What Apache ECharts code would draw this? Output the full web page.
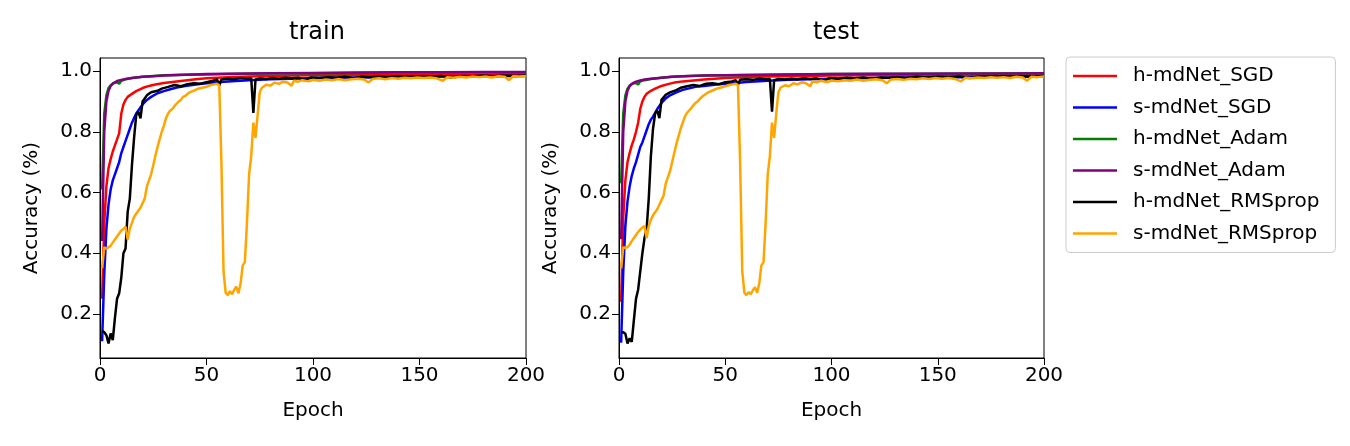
<!DOCTYPE html>
<html>
<head>
<meta charset="utf-8">
<script src="https://cdn.jsdelivr.net/npm/echarts@6/dist/echarts.min.js"></script>
<style>
  html, body { margin: 0; padding: 0; background: #fff; }
  #chart { width: 1350px; height: 446px; }
</style>
</head>
<body>
<div id="chart"></div>
<script>
// series names / colours (legend order)
const names = ['h-mdNet_SGD', 's-mdNet_SGD', 'h-mdNet_Adam', 's-mdNet_Adam', 'h-mdNet_RMSprop', 's-mdNet_RMSprop']
const colors = ['#ff0000', '#0000ff', '#008000', '#800080', '#000000', '#ffa500']
const yTicks = [0.2, 0.4, 0.6, 0.8, 1.0]

// ---- train: [epoch, accuracy]
const trainHSGD = [[1,0.25],[2,0.50],[3,0.62],[4,0.68],[5,0.71],[6,0.735],[7,0.755],[8,0.775],[9,0.795],[10,0.86],[11,0.89],[12,0.905],[13,0.915],[15,0.925],[17,0.934],[20,0.944],[23,0.951],[26,0.956],[30,0.961],[35,0.965],[40,0.969],[45,0.973],[50,0.976],[55,0.978],[60,0.980],[70,0.982],[80,0.984],[90,0.985],[100,0.986],[120,0.987],[140,0.988],[160,0.989],[180,0.989],[200,0.990]]
const trainSSGD = [[1,0.11],[2,0.33],[3,0.48],[4,0.56],[5,0.61],[6,0.64],[7,0.66],[8,0.68],[9,0.70],[10,0.73],[11,0.75],[12,0.77],[13,0.79],[14,0.81],[15,0.83],[16,0.845],[17,0.86],[18,0.87],[20,0.89],[22,0.905],[24,0.915],[27,0.927],[30,0.934],[33,0.94],[36,0.946],[40,0.951],[45,0.956],[50,0.96],[55,0.963],[60,0.966],[70,0.970],[80,0.973],[90,0.975],[100,0.977],[120,0.979],[140,0.981],[160,0.982],[180,0.983],[200,0.984]]
const trainHAdam = [[1,0.61],[2,0.86],[3,0.92],[4,0.944],[5,0.953],[6,0.959],[7,0.962],[8,0.963],[9,0.958],[10,0.968],[12,0.973],[15,0.977],[20,0.981],[25,0.984],[30,0.986],[40,0.988],[50,0.989],[60,0.990],[70,0.991],[80,0.992],[100,0.993],[120,0.994],[140,0.995],[160,0.995],[180,0.996],[200,0.996]]
const trainSAdam = [[1,0.44],[2,0.80],[3,0.90],[4,0.935],[5,0.951],[6,0.958],[7,0.963],[8,0.967],[10,0.971],[12,0.974],[15,0.977],[20,0.981],[25,0.983],[30,0.985],[40,0.988],[50,0.990],[60,0.991],[70,0.992],[80,0.993],[100,0.994],[120,0.995],[140,0.996],[160,0.996],[180,0.997],[200,0.997]]
const trainHRMS = [[1,0.145],[2,0.14],[3,0.13],[4,0.103],[5,0.136],[6,0.114],[7,0.186],[8,0.25],[9,0.268],[10,0.32],[11,0.40],[12,0.416],[13,0.537],[14,0.58],[15,0.69],[16,0.78],[17,0.855],[18,0.866],[19,0.844],[20,0.90],[22,0.92],[24,0.93],[27,0.935],[29,0.942],[32,0.948],[35,0.954],[38,0.95],[41,0.957],[44,0.96],[47,0.958],[50,0.963],[53,0.968],[55,0.972],[56,0.952],[57,0.972],[60,0.975],[63,0.973],[66,0.977],[69,0.975],[71,0.976],[72,0.862],[73,0.972],[75,0.976],[78,0.974],[81,0.977],[84,0.975],[87,0.978],[90,0.976],[93,0.978],[96,0.970],[99,0.979],[103,0.977],[107,0.980],[111,0.978],[115,0.981],[119,0.976],[123,0.981],[127,0.980],[131,0.982],[135,0.979],[140,0.983],[145,0.981],[150,0.983],[155,0.982],[160,0.984],[165,0.979],[170,0.984],[175,0.983],[180,0.985],[185,0.983],[190,0.985],[195,0.984],[200,0.986]]
const trainSRMS = [[1,0.35],[2,0.42],[3,0.415],[4,0.42],[5,0.425],[6,0.435],[7,0.445],[8,0.455],[9,0.465],[10,0.475],[11,0.48],[12,0.487],[13,0.445],[14,0.48],[15,0.50],[16,0.52],[17,0.53],[18,0.54],[19,0.55],[20,0.565],[21,0.58],[22,0.62],[23,0.64],[24,0.66],[25,0.69],[26,0.72],[27,0.75],[28,0.775],[29,0.80],[30,0.82],[31,0.845],[32,0.86],[33,0.87],[34,0.875],[35,0.885],[36,0.893],[37,0.90],[38,0.905],[39,0.915],[40,0.918],[42,0.93],[44,0.935],[46,0.942],[48,0.945],[50,0.948],[52,0.954],[54,0.957],[55,0.958],[56,0.953],[57,0.70],[58,0.34],[59,0.27],[60,0.262],[61,0.275],[62,0.265],[63,0.28],[64,0.29],[65,0.268],[66,0.30],[67,0.36],[68,0.37],[69,0.50],[70,0.66],[71,0.72],[72,0.83],[73,0.78],[74,0.855],[75,0.93],[76,0.945],[78,0.955],[80,0.952],[82,0.962],[84,0.958],[86,0.965],[88,0.962],[90,0.952],[91,0.968],[93,0.965],[95,0.97],[98,0.966],[100,0.971],[103,0.968],[106,0.972],[109,0.97],[112,0.974],[115,0.97],[118,0.973],[121,0.975],[124,0.972],[126,0.962],[128,0.974],[131,0.976],[134,0.973],[137,0.977],[140,0.975],[143,0.978],[146,0.976],[149,0.979],[152,0.977],[155,0.979],[158,0.976],[161,0.968],[163,0.98],[166,0.978],[169,0.981],[172,0.979],[175,0.982],[178,0.98],[181,0.982],[184,0.979],[187,0.983],[190,0.981],[192,0.97],[194,0.983],[197,0.982],[200,0.984]]

// ---- test
const testHSGD = [[1,0.24],[2,0.52],[3,0.64],[4,0.70],[5,0.73],[6,0.755],[7,0.775],[8,0.80],[9,0.83],[10,0.875],[11,0.90],[12,0.915],[13,0.925],[15,0.935],[17,0.942],[20,0.951],[23,0.957],[26,0.962],[30,0.966],[35,0.969],[40,0.972],[45,0.975],[50,0.977],[55,0.979],[60,0.980],[70,0.982],[80,0.983],[90,0.984],[100,0.985],[120,0.986],[140,0.986],[160,0.987],[180,0.987],[200,0.988]]
const testSSGD = [[1,0.105],[2,0.34],[3,0.49],[4,0.57],[5,0.62],[6,0.655],[7,0.68],[8,0.70],[9,0.725],[10,0.75],[11,0.765],[12,0.785],[13,0.805],[14,0.825],[15,0.84],[16,0.85],[17,0.862],[18,0.875],[20,0.895],[22,0.91],[24,0.92],[27,0.93],[30,0.938],[33,0.943],[36,0.948],[40,0.951],[45,0.955],[50,0.958],[55,0.961],[60,0.964],[70,0.968],[80,0.971],[90,0.973],[100,0.975],[120,0.977],[140,0.979],[160,0.980],[180,0.981],[200,0.982]]
const testHAdam = [[1,0.63],[2,0.86],[3,0.92],[4,0.942],[5,0.952],[6,0.957],[7,0.96],[8,0.961],[9,0.956],[10,0.966],[12,0.970],[15,0.974],[20,0.978],[25,0.981],[30,0.983],[40,0.985],[50,0.986],[60,0.987],[70,0.988],[80,0.989],[100,0.990],[120,0.990],[140,0.991],[160,0.991],[180,0.992],[200,0.992]]
const testSAdam = [[1,0.446],[2,0.80],[3,0.90],[4,0.935],[5,0.95],[6,0.957],[7,0.962],[8,0.965],[10,0.969],[12,0.972],[15,0.975],[20,0.978],[25,0.981],[30,0.983],[40,0.985],[50,0.986],[60,0.987],[70,0.988],[80,0.989],[100,0.990],[120,0.991],[140,0.991],[160,0.992],[180,0.992],[200,0.993]]
const testHRMS = [[1,0.14],[2,0.14],[3,0.135],[4,0.103],[5,0.12],[6,0.108],[7,0.18],[8,0.25],[9,0.28],[10,0.34],[11,0.40],[12,0.45],[13,0.48],[14,0.58],[15,0.72],[16,0.81],[17,0.86],[18,0.87],[19,0.845],[20,0.905],[22,0.922],[24,0.93],[27,0.937],[29,0.945],[32,0.95],[35,0.954],[38,0.951],[41,0.958],[44,0.96],[47,0.957],[50,0.963],[53,0.966],[55,0.970],[56,0.955],[57,0.971],[60,0.973],[63,0.971],[66,0.975],[69,0.973],[71,0.974],[72,0.866],[73,0.970],[75,0.974],[78,0.972],[81,0.975],[84,0.973],[87,0.976],[90,0.974],[93,0.976],[96,0.968],[99,0.977],[103,0.975],[107,0.978],[111,0.976],[115,0.979],[119,0.974],[123,0.979],[127,0.978],[131,0.980],[135,0.977],[140,0.981],[145,0.979],[150,0.981],[155,0.980],[160,0.982],[165,0.977],[170,0.982],[175,0.981],[180,0.983],[185,0.981],[190,0.983],[195,0.982],[200,0.984]]
const testSRMS = [[1,0.35],[2,0.42],[3,0.418],[4,0.42],[5,0.428],[6,0.44],[7,0.45],[8,0.46],[9,0.47],[10,0.478],[11,0.485],[12,0.49],[13,0.45],[14,0.49],[15,0.51],[16,0.525],[17,0.535],[18,0.545],[19,0.56],[20,0.575],[21,0.59],[22,0.63],[23,0.65],[24,0.67],[25,0.70],[26,0.73],[27,0.76],[28,0.785],[29,0.81],[30,0.83],[31,0.85],[32,0.862],[33,0.87],[34,0.878],[35,0.887],[36,0.895],[37,0.90],[38,0.908],[39,0.915],[40,0.92],[42,0.93],[44,0.936],[46,0.942],[48,0.946],[50,0.95],[52,0.954],[54,0.957],[55,0.958],[56,0.954],[57,0.70],[58,0.34],[59,0.27],[60,0.262],[61,0.272],[62,0.265],[63,0.278],[64,0.288],[65,0.27],[66,0.30],[67,0.36],[68,0.37],[69,0.50],[70,0.66],[71,0.72],[72,0.83],[73,0.78],[74,0.86],[75,0.93],[76,0.945],[78,0.953],[80,0.95],[82,0.96],[84,0.956],[86,0.963],[88,0.96],[90,0.95],[91,0.966],[93,0.963],[95,0.968],[98,0.964],[100,0.969],[103,0.966],[106,0.970],[109,0.968],[112,0.972],[115,0.968],[118,0.971],[121,0.973],[124,0.970],[126,0.960],[128,0.972],[131,0.974],[134,0.971],[137,0.975],[140,0.973],[143,0.976],[146,0.974],[149,0.977],[152,0.975],[155,0.977],[158,0.974],[161,0.966],[163,0.978],[166,0.976],[169,0.979],[172,0.977],[175,0.98],[178,0.978],[181,0.98],[184,0.977],[187,0.981],[190,0.979],[192,0.968],[194,0.981],[197,0.98],[200,0.982]]

const trainSets = [trainHSGD, trainSSGD, trainHAdam, trainSAdam, trainHRMS, trainSRMS]
const testSets = [testHSGD, testSSGD, testHAdam, testSAdam, testHRMS, testSRMS]

const font = 'DejaVu Sans'
const chart = echarts.init(document.getElementById('chart'), null, { renderer: 'canvas' })

function xAxisFor(i) {
  return {
    type: 'value', gridIndex: i, min: 0, max: 200, interval: 50,
    name: 'Epoch', nameLocation: 'middle', nameGap: 43,
    nameTextStyle: { fontFamily: font, fontSize: 20, color: '#000' },
    axisLine: { show: true, lineStyle: { color: '#000', width: 1 } },
    axisTick: { show: true, length: 7, lineStyle: { color: '#000' } },
    axisLabel: { fontFamily: font, fontSize: 20, color: '#000', margin: 8 },
    splitLine: { show: false }
  }
}
function yAxisFor(i) {
  return {
    type: 'value', gridIndex: i, min: 0.055, max: 1.043,
    name: 'Accuracy (%)', nameLocation: 'middle', nameGap: 58,
    nameTextStyle: { fontFamily: font, fontSize: 20, color: '#000' },
    axisLine: { show: true, lineStyle: { color: '#000', width: 1 } },
    axisTick: { show: true, length: 7, customValues: yTicks, lineStyle: { color: '#000' } },
    axisLabel: { fontFamily: font, fontSize: 20, color: '#000', margin: 8, customValues: yTicks,
      formatter: v => v.toFixed(1) },
    splitLine: { show: false }
  }
}

const series = []
;[trainSets, testSets].forEach((sets, g) => {
  sets.forEach((d, k) => {
    series.push({
      name: names[k], type: 'line', xAxisIndex: g, yAxisIndex: g,
      data: d, showSymbol: false, symbol: 'none',
      lineStyle: { color: colors[k], width: 2.5 }, itemStyle: { color: colors[k] },
      z: 2 + k
    })
  })
})

chart.setOption({
  animation: false,
  backgroundColor: '#fff',
  title: [
    { text: 'train', left: 312, top: 16, textAlign: 'center',
      textStyle: { fontFamily: font, fontSize: 24, fontWeight: 'normal', color: '#000' } },
    { text: 'test', left: 831, top: 16, textAlign: 'center',
      textStyle: { fontFamily: font, fontSize: 24, fontWeight: 'normal', color: '#000' } }
  ],
  grid: [
    { left: 100, top: 58, width: 426, height: 300, show: true, borderColor: '#000', borderWidth: 1, backgroundColor: '#fff' },
    { left: 619, top: 58, width: 425, height: 300, show: true, borderColor: '#000', borderWidth: 1, backgroundColor: '#fff' }
  ],
  xAxis: [xAxisFor(0), xAxisFor(1)],
  yAxis: [yAxisFor(0), yAxisFor(1)],
  legend: {
    data: names, orient: 'vertical', left: 1066, top: 57,
    icon: 'rect', itemWidth: 44, itemHeight: 2.5, itemGap: 11.5,
    padding: [9, 16, 9, 7],
    borderColor: '#cccccc', borderWidth: 1, borderRadius: 4,
    textStyle: { fontFamily: font, fontSize: 20, color: '#000', lineHeight: 20, padding: [0, 0, 0, 11] }
  },
  series: series
})
</script>
</body>
</html>
